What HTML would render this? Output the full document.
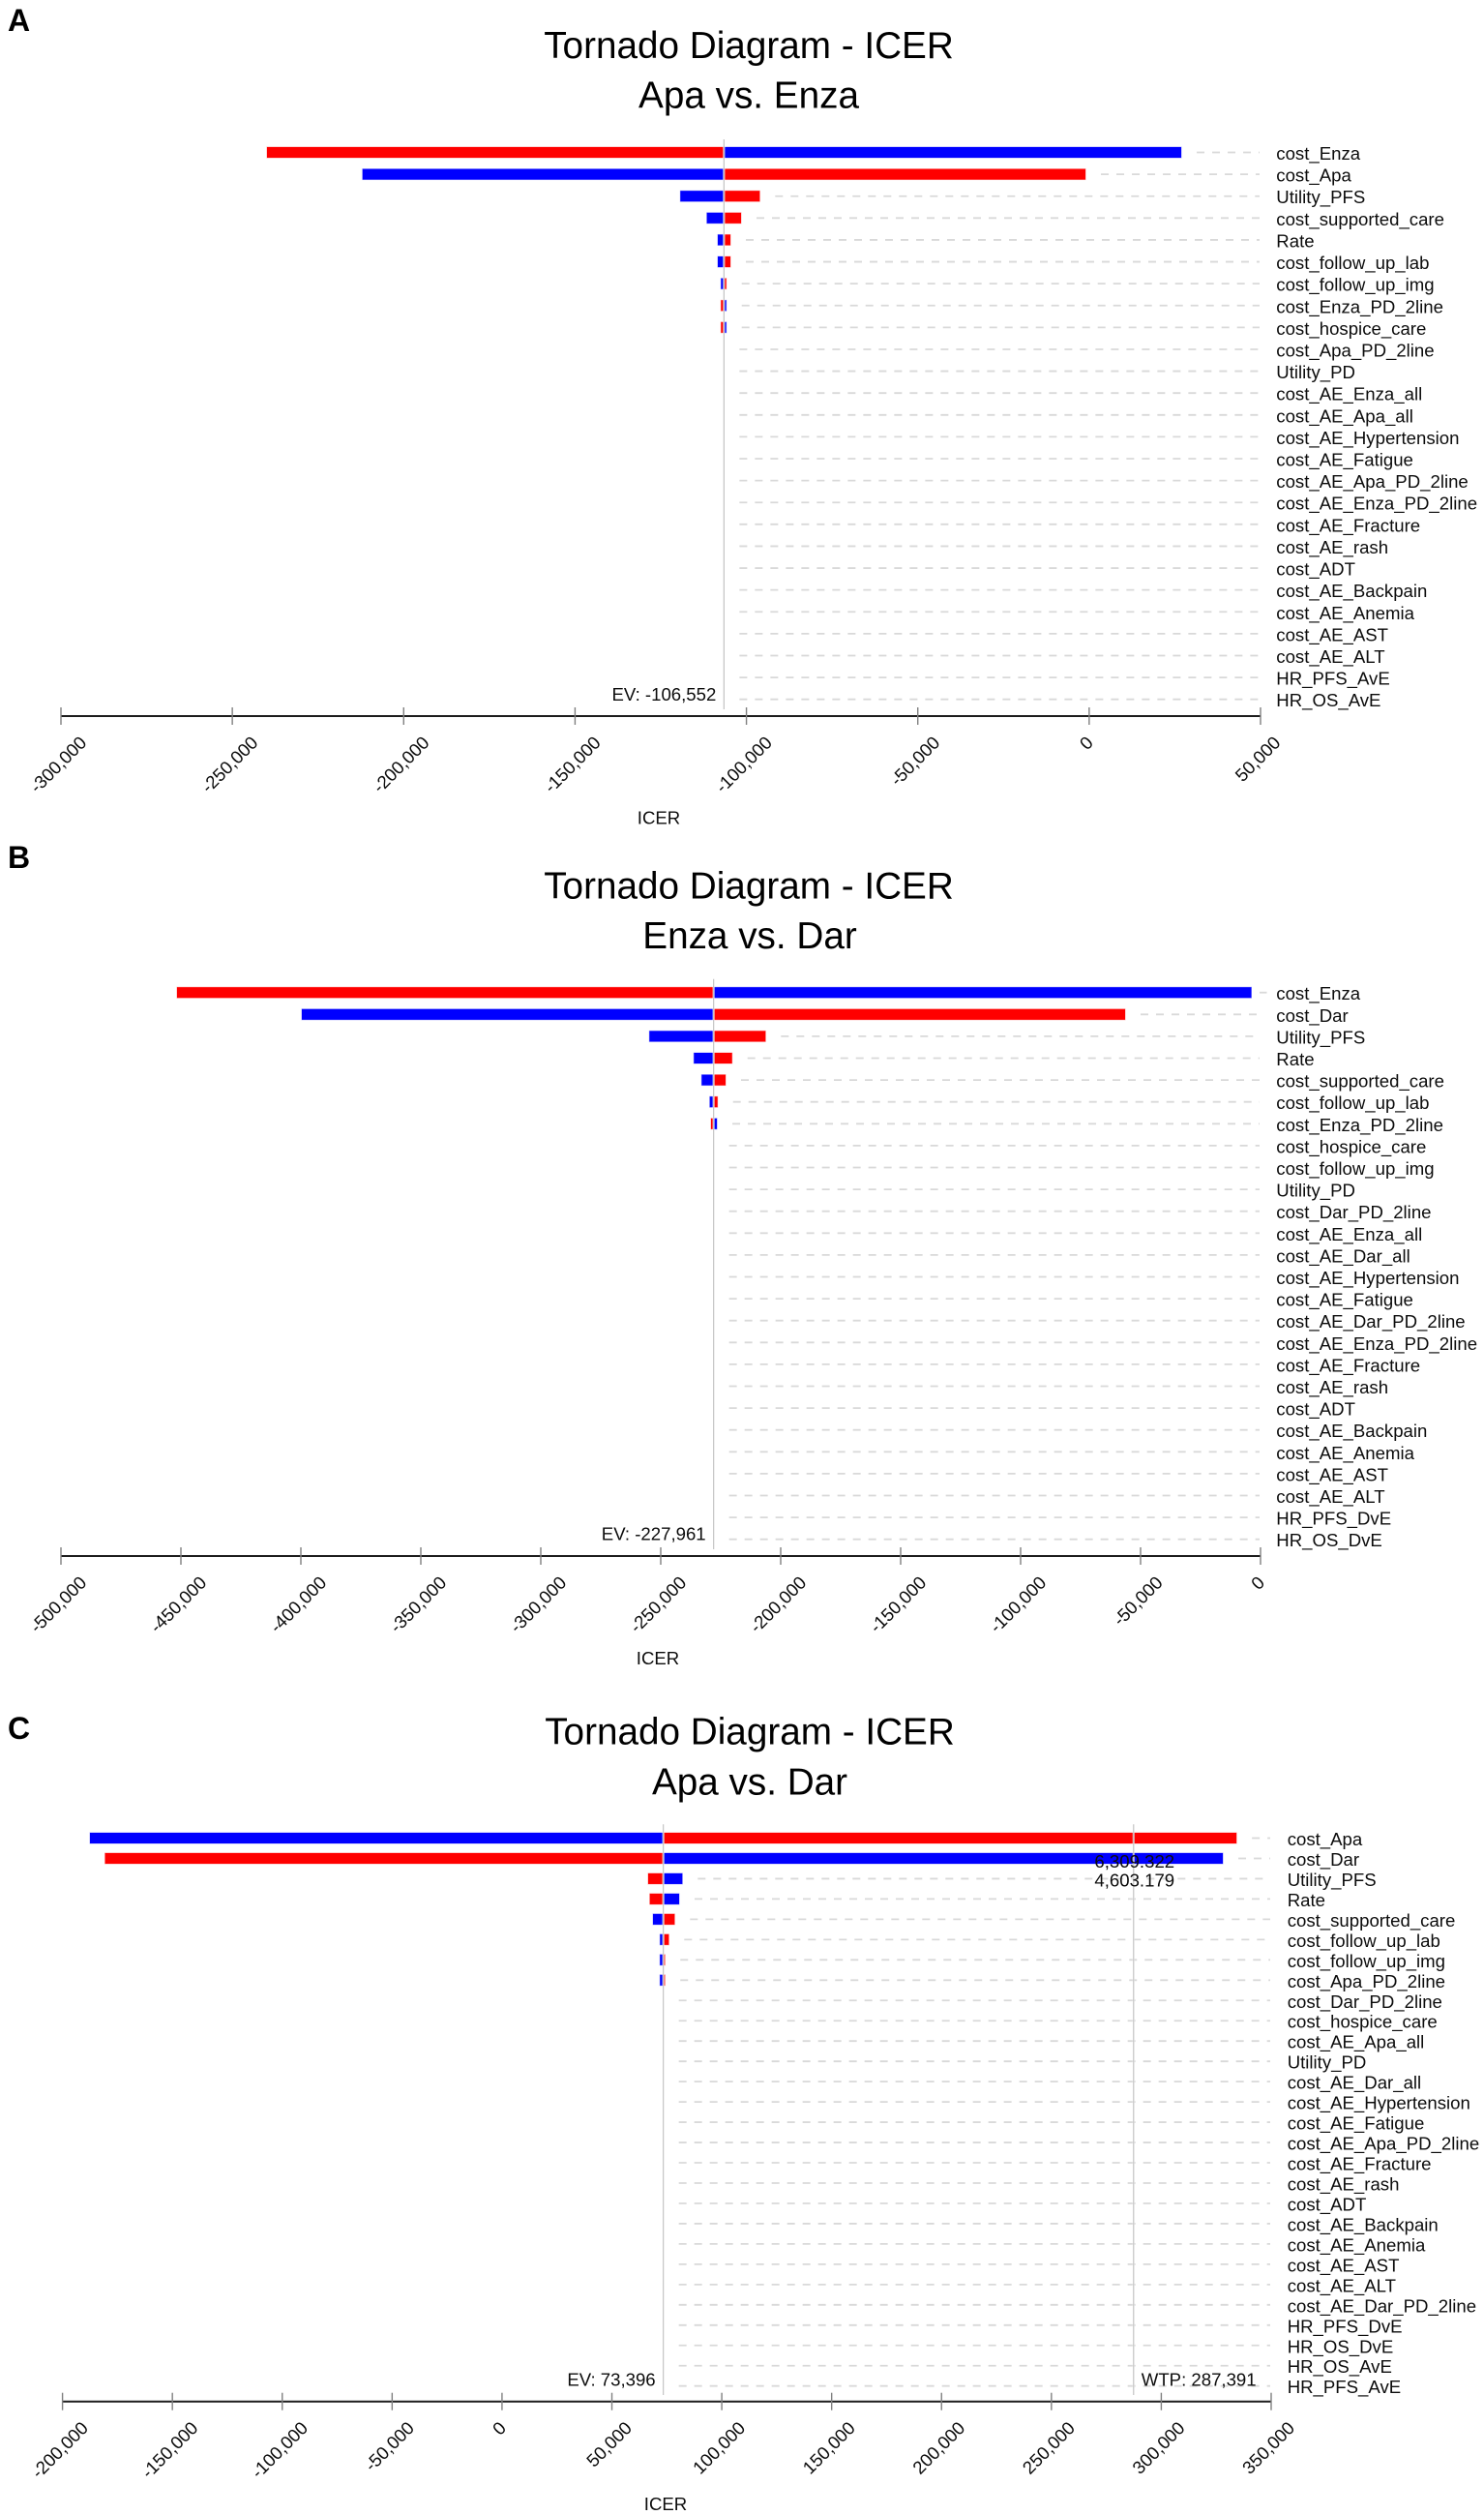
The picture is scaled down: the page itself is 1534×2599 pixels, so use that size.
<!DOCTYPE html>
<html lang="en">
<head>
<meta charset="utf-8">
<title>Tornado Diagrams - ICER</title>
<style>
html,body{margin:0;padding:0;background:#fff;}
svg{display:block;}
text{font-family:"Liberation Sans",Arial,sans-serif;fill:#0c0c0c;}
.letter{font-size:32px;font-weight:bold;fill:#000;}
.title{font-size:38.7px;text-anchor:middle;fill:#000;}
.lab{font-size:18.6px;}
.tick{font-size:18.6px;text-anchor:middle;}
</style>
</head>
<body>
<svg id="chart" xmlns="http://www.w3.org/2000/svg" width="1534" height="2599" viewBox="0 0 1534 2599">
  <g id="panel-a">
    <text class="letter" x="8" y="32">A</text>
    <text class="title" x="774" y="60">Tornado Diagram - ICER</text>
    <text class="title" x="774" y="111.5">Apa vs. Enza</text>
    <text class="lab" x="681" y="851.5" text-anchor="middle">ICER</text>
  </g>
  <g id="panel-b">
    <text class="letter" x="8" y="897">B</text>
    <text class="title" x="774" y="928.5">Tornado Diagram - ICER</text>
    <text class="title" x="775" y="980">Enza vs. Dar</text>
    <text class="lab" x="680" y="1720" text-anchor="middle">ICER</text>
  </g>
  <g id="panel-c">
    <text class="letter" x="8" y="1797">C</text>
    <text class="title" x="775" y="1802.5">Tornado Diagram - ICER</text>
    <text class="title" x="775" y="1854.5">Apa vs. Dar</text>
    <text class="lab" x="688" y="2594" text-anchor="middle">ICER</text>
  </g>
</svg>
<script>
/* ---------- Panel A data ---------- */
const labelsA = ["cost_Enza","cost_Apa","Utility_PFS","cost_supported_care","Rate","cost_follow_up_lab","cost_follow_up_img","cost_Enza_PD_2line","cost_hospice_care","cost_Apa_PD_2line","Utility_PD","cost_AE_Enza_all","cost_AE_Apa_all","cost_AE_Hypertension","cost_AE_Fatigue","cost_AE_Apa_PD_2line","cost_AE_Enza_PD_2line","cost_AE_Fracture","cost_AE_rash","cost_ADT","cost_AE_Backpain","cost_AE_Anemia","cost_AE_AST","cost_AE_ALT","HR_PFS_AvE","HR_OS_AvE"];
const lowA = [-239880,-212000,-119270,-111540,-108345,-108345,-107400,-107400,-107400,-106552,-106552,-106552,-106552,-106552,-106552,-106552,-106552,-106552,-106552,-106552,-106552,-106552,-106552,-106552,-106552,-106552];
const highA = [26860,-1080,-96123,-101570,-104676,-104676,-105890,-105890,-105890,-106552,-106552,-106552,-106552,-106552,-106552,-106552,-106552,-106552,-106552,-106552,-106552,-106552,-106552,-106552,-106552,-106552];
const lowColorA = ["red","blue","blue","blue","blue","blue","blue","red","red","blue","blue","blue","blue","blue","blue","blue","blue","blue","blue","blue","blue","blue","blue","blue","blue","blue"];
const ticksA = [-300000,-250000,-200000,-150000,-100000,-50000,0,50000];
const evA = -106552;

/* ---------- Panel B data ---------- */
const labelsB = ["cost_Enza","cost_Dar","Utility_PFS","Rate","cost_supported_care","cost_follow_up_lab","cost_Enza_PD_2line","cost_hospice_care","cost_follow_up_img","Utility_PD","cost_Dar_PD_2line","cost_AE_Enza_all","cost_AE_Dar_all","cost_AE_Hypertension","cost_AE_Fatigue","cost_AE_Dar_PD_2line","cost_AE_Enza_PD_2line","cost_AE_Fracture","cost_AE_rash","cost_ADT","cost_AE_Backpain","cost_AE_Anemia","cost_AE_AST","cost_AE_ALT","HR_PFS_DvE","HR_OS_DvE"];
const lowB = [-451613,-399600,-254718,-236169,-232944,-229556,-229032,-227961,-227961,-227961,-227961,-227961,-227961,-227961,-227961,-227961,-227961,-227961,-227961,-227961,-227961,-227961,-227961,-227961,-227961,-227961];
const highB = [-3831,-56450,-206331,-220282,-222984,-226331,-226600,-227961,-227961,-227961,-227961,-227961,-227961,-227961,-227961,-227961,-227961,-227961,-227961,-227961,-227961,-227961,-227961,-227961,-227961,-227961];
const lowColorB = ["red","blue","blue","blue","blue","blue","red","blue","blue","blue","blue","blue","blue","blue","blue","blue","blue","blue","blue","blue","blue","blue","blue","blue","blue","blue"];
const ticksB = [-500000,-450000,-400000,-350000,-300000,-250000,-200000,-150000,-100000,-50000,0];
const evB = -227961;

/* ---------- Panel C data ---------- */
const labelsC = ["cost_Apa","cost_Dar","Utility_PFS","Rate","cost_supported_care","cost_follow_up_lab","cost_follow_up_img","cost_Apa_PD_2line","cost_Dar_PD_2line","cost_hospice_care","cost_AE_Apa_all","Utility_PD","cost_AE_Dar_all","cost_AE_Hypertension","cost_AE_Fatigue","cost_AE_Apa_PD_2line","cost_AE_Fracture","cost_AE_rash","cost_ADT","cost_AE_Backpain","cost_AE_Anemia","cost_AE_AST","cost_AE_ALT","cost_AE_Dar_PD_2line","HR_PFS_DvE","HR_OS_DvE","HR_OS_AvE","HR_PFS_AvE"];
const lowC = [-187498,-180630,66508,67257,68710,71923,71900,71900,73396,73396,73396,73396,73396,73396,73396,73396,73396,73396,73396,73396,73396,73396,73396,73396,73396,73396,73396,73396];
const highC = [334205,328000,82048,80595,78527,75885,74100,74100,73396,73396,73396,73396,73396,73396,73396,73396,73396,73396,73396,73396,73396,73396,73396,73396,73396,73396,73396,73396];
const lowColorC = ["blue","red","red","red","blue","blue","blue","blue","blue","blue","blue","blue","blue","blue","blue","blue","blue","blue","blue","blue","blue","blue","blue","blue","blue","blue","blue","blue"];
const ticksC = [-200000,-150000,-100000,-50000,0,50000,100000,150000,200000,250000,300000,350000];
const evC = 73396;
const wtpC = 287391;
const overlayLabelsC = ["6,309.322","4,603.179"];

const colorMap = {red:"#ff0000", blue:"#0000ff"};
const NS = "http://www.w3.org/2000/svg";

function make(tag, parent, attrs) {
  const el = document.createElementNS(NS, tag);
  for (const k in attrs) el.setAttribute(k, attrs[k]);
  parent.appendChild(el);
  return el;
}
function linearScale(d0, d1, r0, r1) {
  return v => r0 + (v - d0) / (d1 - d0) * (r1 - r0);
}
function fmt(v) {
  return v.toLocaleString("en-US");
}
function slug(s) {
  return s.toLowerCase().replace(/_/g, "-");
}

function drawPanel(cfg) {
  const g = document.getElementById(cfg.id);
  const x = linearScale(cfg.ticks[0], cfg.ticks[cfg.ticks.length - 1], cfg.x0, cfg.x1);
  const y = i => cfg.y0 + i * (cfg.yLast - cfg.y0) / (cfg.labels.length - 1);
  const evX = x(cfg.ev);

  cfg.labels.forEach((name, i) => {
    const cy = y(i);
    const lowX = x(cfg.low[i]);
    const highX = x(cfg.high[i]);
    const dash = make("line", g, {x1: Math.max(highX, evX) + 16, x2: cfg.x1 - 1, y1: cy, y2: cy, stroke: "#d9d9d9", "stroke-width": 1.8, "stroke-dasharray": "8 8"});
    
    

    const lowCol = cfg.lowColor[i];
    const highCol = lowCol === "red" ? "blue" : "red";
    if (evX - lowX > 0.1) {
      const r1 = make("rect", g, {x: lowX, y: cy - 5.5, width: evX - lowX, height: 11, fill: colorMap[lowCol], stroke: colorMap[lowCol], "stroke-opacity": 0.3, "stroke-width": 1});
      
      
    }
    if (highX - evX > 0.1) {
      const r2 = make("rect", g, {x: evX, y: cy - 5.5, width: highX - evX, height: 11, fill: colorMap[highCol], stroke: colorMap[highCol], "stroke-opacity": 0.3, "stroke-width": 1});
      
      
    }
    const t = make("text", g, {class: "lab", x: cfg.labelX, y: cy + 7.5});
    t.textContent = name;
    
    
  });

  /* reference lines */
  const evHalo = make("line", g, {x1: evX, x2: evX, y1: cfg.lineTop, y2: cfg.lineBottom, stroke: "#fff", "stroke-width": 2.2, "stroke-opacity": 0.7});
  
  
  const evLine = make("line", g, {x1: evX, x2: evX, y1: cfg.lineTop, y2: cfg.lineBottom, stroke: "#c4c4c4", "stroke-width": 1.2});
  
  
  const evText = make("text", g, {class: "lab", x: evX - 8, y: cfg.evLabelY, "text-anchor": "end"});
  evText.textContent = "EV: " + fmt(cfg.ev);
  
  

  if (cfg.wtp !== undefined) {
    const wX = x(cfg.wtp);
    const wHalo = make("line", g, {x1: wX, x2: wX, y1: cfg.lineTop, y2: cfg.lineBottom, stroke: "#fff", "stroke-width": 2.2, "stroke-opacity": 0.6});
    
    
    const wLine = make("line", g, {x1: wX, x2: wX, y1: cfg.lineTop, y2: cfg.lineBottom, stroke: "#c4c4c4", "stroke-width": 1.2});
    
    
    const wText = make("text", g, {class: "lab", x: wX + 8, y: cfg.evLabelY});
    wText.textContent = "WTP: " + fmt(cfg.wtp);
    
    
    cfg.overlay.forEach((s, i) => {
      const o = make("text", g, {class: "lab", x: wX + 1, y: 1930 + i * 19.3, "text-anchor": "middle"});
      o.textContent = s;
      
      
    });
  }

  /* axis */
  const axis = make("line", g, {x1: cfg.x0, x2: cfg.x1, y1: cfg.axisY, y2: cfg.axisY, stroke: "#1c1c1c", "stroke-width": 2});
  
  
  cfg.ticks.forEach(v => {
    const tx = x(v);
    const tk = make("line", g, {x1: tx, x2: tx, y1: cfg.axisY - 9, y2: cfg.axisY + 9, stroke: "#808080", "stroke-width": 1.4});
    
    
    const lab = make("text", g, {class: "tick", x: 0, y: 0, dy: "0.35em"});
    lab.textContent = fmt(v);
    
    
    const len = lab.getComputedTextLength();
    const cy = cfg.axisY + 20.5 + (len + 10) * Math.SQRT1_2 / 2;
    lab.setAttribute("transform", "translate(" + (tx - 3) + " " + cy + ") rotate(-45)");
  });
}

drawPanel({id:"panel-a", labels:labelsA, low:lowA, high:highA, lowColor:lowColorA, ticks:ticksA, ev:evA,
  x0:63, x1:1303, y0:157.5, yLast:722.7, labelX:1319.3, axisY:740, lineTop:144, lineBottom:733, evLabelY:724});
drawPanel({id:"panel-b", labels:labelsB, low:lowB, high:highB, lowColor:lowColorB, ticks:ticksB, ev:evB,
  x0:63, x1:1303, y0:1025.7, yLast:1590.7, labelX:1319.3, axisY:1608, lineTop:1011.7, lineBottom:1601, evLabelY:1591.7});
drawPanel({id:"panel-c", labels:labelsC, low:lowC, high:highC, lowColor:lowColorC, ticks:ticksC, ev:evC, wtp:wtpC, overlay:overlayLabelsC,
  x0:64.6, x1:1314, y0:1899.5, yLast:2465.7, labelX:1330.7, axisY:2481.7, lineTop:1885.3, lineBottom:2475, evLabelY:2465.7});
</script>
</body>
</html>
